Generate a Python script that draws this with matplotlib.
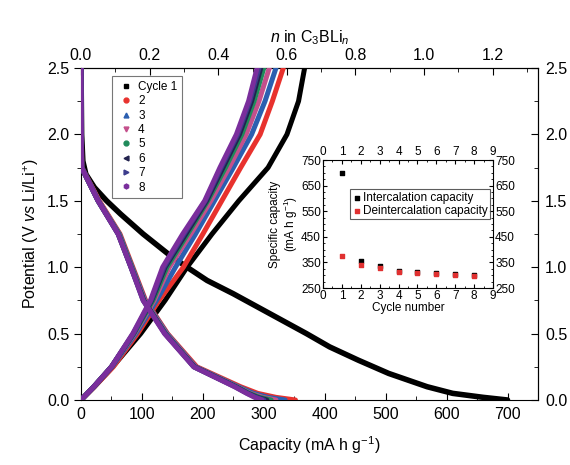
import matplotlib
matplotlib.use("Agg")
import matplotlib.pyplot as plt
from matplotlib.lines import Line2D
from matplotlib.ticker import MultipleLocator, FixedLocator, FormatStrFormatter

plt.rcParams['font.family'] = ['Liberation Sans', 'DejaVu Sans']
plt.rcParams['mathtext.fontset'] = 'custom'
plt.rcParams['mathtext.rm'] = 'Liberation Sans'
plt.rcParams['mathtext.it'] = 'Liberation Sans:italic'

# ---------------- data ----------------
cycles = ["Cycle 1", "2", "3", "4", "5", "6", "7", "8"]
colors = ["#000000", "#e8322e", "#2b5fb0", "#c4508c", "#1f8a5a", "#22224e", "#3c3c8c", "#7a2e9c"]
markers = ["s", "o", "^", "v", "o", "<", ">", "h"]

# charge (delithiation) curves: capacity at given potentials
charge_V = [0.0, 0.1, 0.25, 0.5, 0.75, 1.0, 1.25, 1.5, 1.75, 2.0, 2.25, 2.5]
charge_cap = [
    [0, 22, 52, 98, 138, 174, 215, 259, 307, 338, 357, 367],
    [0, 22, 53, 93, 128, 168, 200, 231, 262, 294, 314, 332],
    [0, 21, 51, 90, 124, 155, 188, 219, 250, 280, 302, 320],
    [0, 21, 50, 88, 120, 145, 180, 213, 243, 271, 292, 309],
    [0, 21, 50, 87, 118, 141, 175, 208, 237, 264, 284, 300],
    [0, 21, 50, 86, 116, 138, 172, 206, 233, 260, 280, 295],
    [0, 21, 50, 86, 115, 136, 169, 204, 230, 257, 277, 292],
    [0, 21, 50, 85, 114, 134, 167, 203, 228, 255, 275, 289],
]

# discharge (lithiation) curve of cycle 1
dis1_V = [2.5, 2.0, 1.8, 1.7, 1.6, 1.5, 1.4, 1.25, 1.1, 1.0, 0.9, 0.8, 0.7,
          0.6, 0.5, 0.4, 0.3, 0.2, 0.1, 0.05, 0.02, 0.0]
dis1_cap = [0, 1, 3, 8, 22, 42, 65, 102, 143, 174, 207, 250, 290,
            330, 370, 408, 455, 505, 568, 610, 660, 700]

# discharge curves of cycles 2-8
dis_V = [2.5, 2.0, 1.75, 1.5, 1.25, 1.0, 0.75, 0.5, 0.25, 0.1, 0.05, 0.02, 0.0]
dis_cap = [
    [0, 0.5, 1.5, 30, 64, 85, 106, 142, 190, 262, 290, 320, 352],
    [0, 0.5, 1.5, 29, 63, 84, 105, 141, 188, 258, 283, 307, 335],
    [0, 0.5, 1.0, 29, 62, 83, 104, 140, 187, 256, 278, 298, 320],
    [0, 0.5, 1.0, 28, 62, 83, 103, 139, 186, 255, 276, 293, 312],
    [0, 0.5, 1.0, 28, 61, 82, 103, 138, 186, 254, 274, 289, 305],
    [0, 0.5, 1.0, 28, 61, 82, 102, 138, 185, 253, 273, 287, 300],
    [0, 0.5, 1.0, 28, 61, 82, 102, 137, 185, 252, 272, 285, 297],
]

# inset data
cycle_num = [1, 2, 3, 4, 5, 6, 7, 8]
intercal = [700, 355, 335, 318, 312, 308, 305, 300]
deintercal = [375, 340, 330, 312, 308, 305, 302, 297]

potential_ticks = [0.0, 0.5, 1.0, 1.5, 2.0, 2.5]
potential_minor = [0.25, 0.75, 1.25, 1.75, 2.25]
n_ticks = [0.0, 0.2, 0.4, 0.6, 0.8, 1.0, 1.2]
n_minor = [0.1, 0.3, 0.5, 0.7, 0.9, 1.1, 1.3]

CAP_PER_N = 563.0  # mA h g-1 per Li in C3BLi_n

# ---------------- figure ----------------
fig = plt.figure(figsize=(5.7, 4.65), dpi=100)
ax = fig.add_axes([81/570, 65/465, (538-81)/570, (400-68)/465])

lw = 3.6
for i in range(8):
    ax.plot(charge_cap[i], charge_V, color=colors[i], lw=lw, solid_capstyle='round',
            solid_joinstyle='round', zorder=2+i)
    if i == 0:
        ax.plot(dis1_cap, dis1_V, color=colors[i], lw=lw + 0.4, solid_capstyle='round',
                solid_joinstyle='round', zorder=2+i)
    else:
        ax.plot(dis_cap[i-1], dis_V, color=colors[i], lw=lw, solid_capstyle='round',
                solid_joinstyle='round', zorder=2+i)

ax.set_xlim(0, 750)
ax.set_ylim(0, 2.5)
ax.xaxis.set_major_locator(FixedLocator([0, 100, 200, 300, 400, 500, 600, 700]))
ax.xaxis.set_minor_locator(FixedLocator([50, 150, 250, 350, 450, 550, 650]))
ax.yaxis.set_major_locator(FixedLocator(potential_ticks))
ax.yaxis.set_minor_locator(FixedLocator(potential_minor))
ax.yaxis.set_major_formatter(FormatStrFormatter('%.1f'))
ax.tick_params(axis='x', which='both', direction='in', labelsize=11.5, pad=5)
ax.tick_params(axis='x', which='major', length=5)
ax.tick_params(axis='x', which='minor', length=3)
ax.tick_params(axis='y', which='both', direction='out', labelsize=11.5)
ax.tick_params(axis='y', which='major', length=5)
ax.tick_params(axis='y', which='minor', length=3)
ax.set_xlabel("Capacity (mA h g$^{-1}$)", fontsize=11.5, labelpad=9)
ax.set_ylabel("Potential (V $vs$ Li/Li$^{+}$)", fontsize=11.5, labelpad=4)

top = ax.secondary_xaxis('top', functions=(lambda c: c / CAP_PER_N, lambda n: n * CAP_PER_N))
top.xaxis.set_major_locator(FixedLocator(n_ticks))
top.xaxis.set_minor_locator(FixedLocator(n_minor))
top.xaxis.set_major_formatter(FormatStrFormatter('%.1f'))
top.tick_params(axis='x', which='both', direction='in', labelsize=11.5)
top.tick_params(axis='x', which='major', length=5)
top.tick_params(axis='x', which='minor', length=3)
top.set_xlabel("$n$ in C$_3$BLi$_n$", fontsize=11.5, labelpad=4)

right = ax.secondary_yaxis('right')
right.yaxis.set_major_locator(FixedLocator(potential_ticks))
right.yaxis.set_minor_locator(FixedLocator(potential_minor))
right.yaxis.set_major_formatter(FormatStrFormatter('%.1f'))
right.tick_params(axis='y', which='both', direction='in', labelsize=11.5, pad=5)
right.tick_params(axis='y', which='major', length=5)
right.tick_params(axis='y', which='minor', length=3)

handles = [Line2D([], [], ls='none', marker=markers[i], color=colors[i], markersize=3.5)
           for i in range(8)]
leg = ax.legend(handles, cycles, loc='upper left', bbox_to_anchor=(0.068, 0.975),
                fontsize=8.5, frameon=True, fancybox=False, edgecolor='#555555',
                handletextpad=0.3, labelspacing=0.2, borderpad=0.4, handlelength=1.5,
                borderaxespad=0)
leg.get_frame().set_linewidth(0.8)
leg.set_zorder(20)

# ---------------- inset ----------------
ins = fig.add_axes([323/570, (465-288)/465, (493-323)/570, (288-160)/465])
ins.set_zorder(15)
ins.scatter(cycle_num, intercal, marker='s', s=6, color='black', label='Intercalation capacity', zorder=3)
ins.scatter(cycle_num, deintercal, marker='s', s=5, color='#e03030', label='Deintercalation capacity', zorder=4)
ins.set_xlim(0, 9)
ins.set_ylim(250, 750)
ins.xaxis.set_major_locator(FixedLocator([0, 1, 2, 3, 4, 5, 6, 7, 8, 9]))
ins.xaxis.set_minor_locator(MultipleLocator(0.5))
ins.yaxis.set_major_locator(FixedLocator([250, 350, 450, 550, 650, 750]))
ins.yaxis.set_minor_locator(MultipleLocator(25))
ins.tick_params(which='both', direction='in', top=True, right=True,
                labeltop=True, labelright=True, labelsize=8.5, pad=1.5)
ins.tick_params(which='major', length=3)
ins.tick_params(which='minor', length=1.5)
for s in ins.spines.values():
    s.set_linewidth(0.8)
ins.set_xlabel("Cycle number", fontsize=8.5, labelpad=0)
ins.set_ylabel("Specific capacity\n(mA h g$^{-1}$)", fontsize=8.5, labelpad=1, linespacing=1.0)
il = ins.legend(loc='upper right', bbox_to_anchor=(0.985, 0.77), fontsize=8.5, frameon=True,
                fancybox=False, edgecolor='#333333', handletextpad=0.1, handlelength=0.8,
                borderpad=0.2, labelspacing=0.1, borderaxespad=0, markerscale=1.0)
il.get_frame().set_linewidth(0.8)

fig.savefig("out.png", dpi=100)
